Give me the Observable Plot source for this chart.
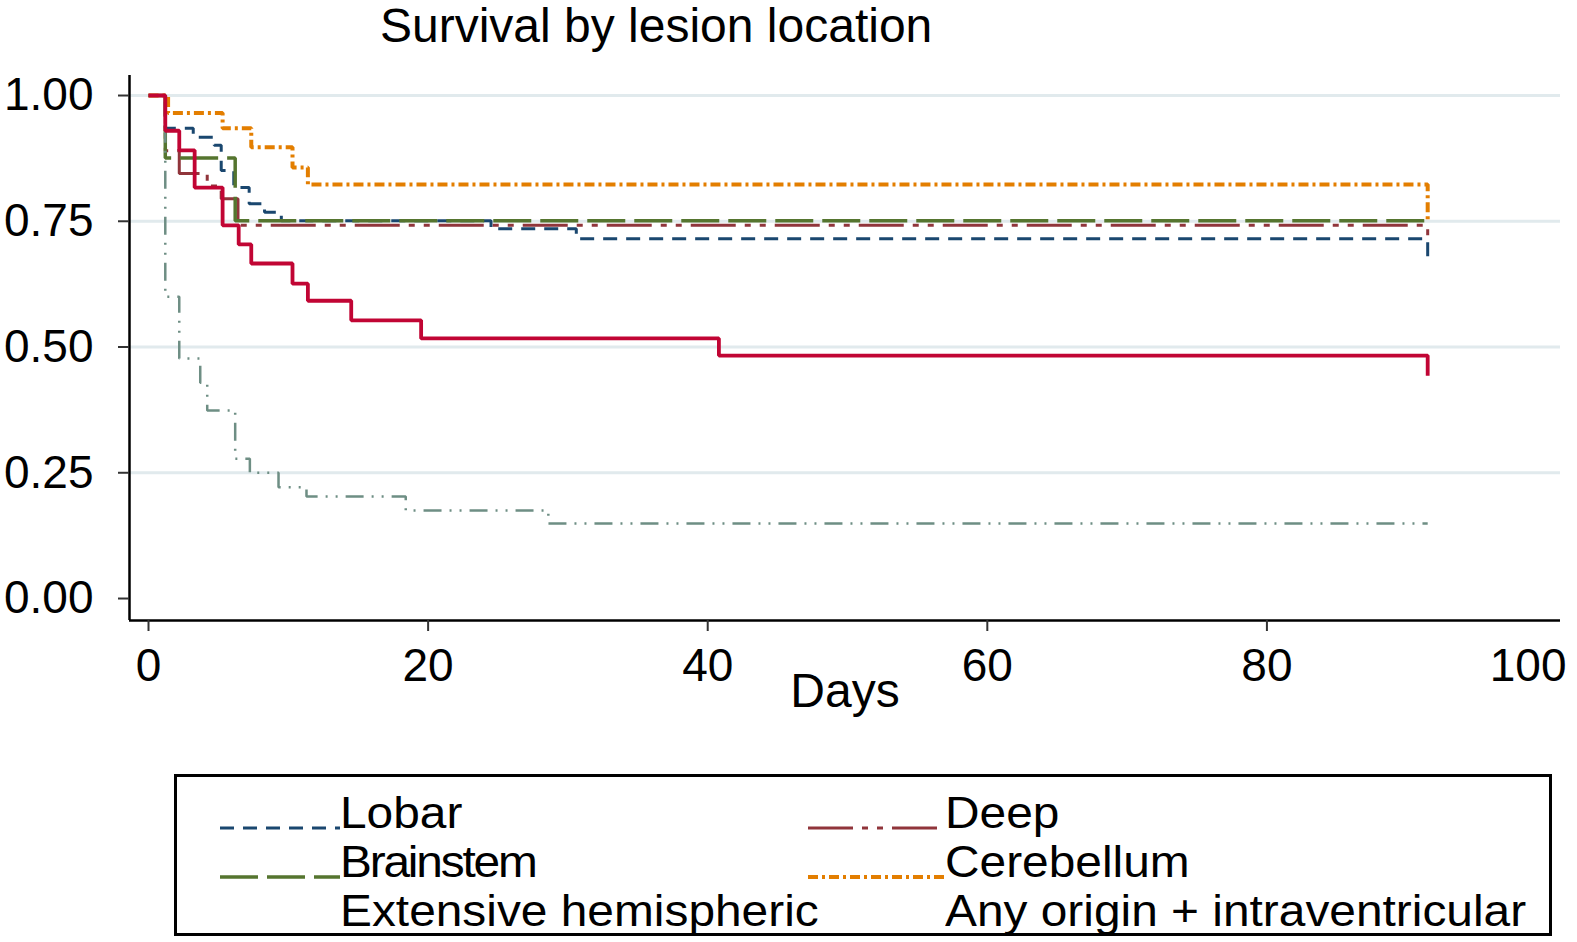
<!DOCTYPE html>
<html>
<head>
<meta charset="utf-8">
<script src="https://cdn.jsdelivr.net/npm/d3@7"></script>
<script src="https://cdn.jsdelivr.net/npm/@observablehq/plot@0.6"></script>
<style>
  body { margin: 0; background: #fff; font-family: "Liberation Sans", Arial, sans-serif; }
  #wrap { position: relative; width: 1577px; height: 942px; overflow: hidden; }
  .txt { position: absolute; font-size: 48px; line-height: 44px; color: #000; white-space: nowrap; }
  .leg { position: absolute; font-size: 43.5px; line-height: 40px; color: #000; white-space: nowrap;
         transform: scaleX(1.1); transform-origin: left center; }
  #legend { position: absolute; left: 174px; top: 774px; width: 1372px; height: 156px; border: 3px solid #000; }
  #keys { position: absolute; left: 0; top: 0; }
</style>
</head>
<body>
<div id="wrap">
  <div id="chart"></div>
  <div class="txt" style="left:380px; top:4px;">Survival by lesion location</div>
  <div class="txt" style="left:845px; top:669px; transform:translateX(-50%);">Days</div>
  <div id="legend"></div>
  <svg id="keys" width="1577" height="942"></svg>
</div>
<script>
// series (day, survival)
const names = ["Lobar", "Deep", "Brainstem", "Cerebellum", "Extensive hemispheric", "Any origin + intraventricular"];

const lobarDays = [0, 1.2, 3.2, 4.7, 5.2, 6.1, 7.2, 8.3, 9.5, 24.5, 30.6, 91.5];
const lobarSurv = [1, 0.935, 0.917, 0.901, 0.851, 0.817, 0.785, 0.768, 0.751, 0.735, 0.715, 0.68];

const deepDays = [0, 1.2, 2.2, 4.2, 5.2, 6.4, 91.5];
const deepSurv = [1, 0.89, 0.845, 0.82, 0.795, 0.742, 0.71];

const brainDays = [0, 1.2, 6.2, 91.5];
const brainSurv = [1, 0.876, 0.751, 0.751];

const cereDays = [0, 1.4, 5.3, 7.35, 10.3, 11.4, 91.5];
const cereSurv = [1, 0.965, 0.935, 0.897, 0.857, 0.823, 0.752];

const extDays = [0, 1.2, 2.2, 3.7, 4.2, 6.2, 7.25, 9.3, 11.3, 18.4, 28.6, 91.5];
const extSurv = [1, 0.6, 0.477, 0.429, 0.374, 0.278, 0.25, 0.221, 0.203, 0.175, 0.149, 0.149];

const ivhDays = [0, 1.2, 2.2, 3.3, 5.3, 6.45, 7.35, 10.3, 11.4, 14.5, 19.5, 40.8, 91.5];
const ivhSurv = [1, 0.93, 0.891, 0.817, 0.742, 0.704, 0.666, 0.626, 0.592, 0.553, 0.517, 0.483, 0.443];

const xTicks = [0, 20, 40, 60, 80, 100];
const yTicks = [0, 0.25, 0.5, 0.75, 1];
const xDomain = [-1.36, 101];
const yDomain = [-0.0437, 1.0398];

// line styles (stata s2color look)
const styles = [
  {stroke: "#1a476f", width: 3, dash: "14 9"},
  {stroke: "#90353b", width: 3, dash: "45 9 6 9 6 9"},
  {stroke: "#55752f", width: 3.5, dash: "38 9"},
  {stroke: "#e37e00", width: 4, dash: "10 4 3 4"},
  {stroke: "#6e8e84", width: 2.5, dash: "18 8 2 8 2 8"},
  {stroke: "#c10534", width: 3.8, dash: null}
];

const series = [
  [lobarDays, lobarSurv], [deepDays, deepSurv], [brainDays, brainSurv],
  [cereDays, cereSurv], [extDays, extSurv], [ivhDays, ivhSurv]
].map(([d, s], i) => ({name: names[i], pts: d.map((day, j) => ({day, surv: s[j]}))}));

const lineMarks = series.map((s, i) => Plot.line(s.pts, {
  x: "day", y: "surv", curve: "step-after",
  stroke: styles[i].stroke, strokeWidth: styles[i].width,
  strokeDasharray: styles[i].dash, strokeLinecap: "butt", strokeLinejoin: "miter"
}));

const axisStyle = {fontSize: 46, label: null, stroke: "#333", strokeWidth: 2};

const chart = Plot.plot({
  width: 1577,
  height: 720,
  marginLeft: 129,
  marginRight: 17,
  marginTop: 75,
  marginBottom: 100,
  style: {fontFamily: "Liberation Sans, Arial, sans-serif", background: "white", color: "black"},
  x: {domain: xDomain},
  y: {domain: yDomain},
  marks: [
    Plot.gridY(yTicks.slice(1), {stroke: "#e1eaed", strokeOpacity: 1, strokeWidth: 3}),
    Plot.ruleX([xDomain[0]], {stroke: "black", strokeWidth: 2.5}),
    Plot.ruleY([yDomain[0]], {stroke: "black", strokeWidth: 2.5}),
    Plot.axisY({ticks: yTicks, tickFormat: d3.format(".2f"), tickSize: 11, tickPadding: 25, ...axisStyle}),
    Plot.axisX({ticks: xTicks.slice(0, -1), tickSize: 11, tickPadding: 17, ...axisStyle}),
    // last label sits against the right edge, no tick mark
    Plot.axisX({ticks: xTicks.slice(-1), tickSize: 0, tickPadding: 28, textAnchor: "end", dx: 20, ...axisStyle}),
    ...lineMarks
  ]
});

d3.select("#chart").append(() => chart);

// legend: two columns, three rows; last row has no visible key
const legCols = [{key: 220, text: 340}, {key: 808, text: 945}];
const legRows = [828, 877, 926];
const wrap = d3.select("#wrap");
const keys = d3.select("#keys");
names.forEach((n, i) => {
  const col = legCols[i % 2], row = Math.floor(i / 2);
  const base = legRows[row];
  wrap.append("div").attr("class", "leg")
    .style("left", col.text + "px").style("top", (base - 35) + "px")
    .style("letter-spacing", n === "Brainstem" ? "-2px" : null)
    .text(n);
  if (row < 2) {
    keys.append("line")
      .attr("x1", col.key).attr("x2", col.text).attr("y1", base).attr("y2", base)
      .attr("stroke", styles[i].stroke).attr("stroke-width", styles[i].width)
      .attr("stroke-dasharray", styles[i].dash);
  }
});
</script>
</body>
</html>
